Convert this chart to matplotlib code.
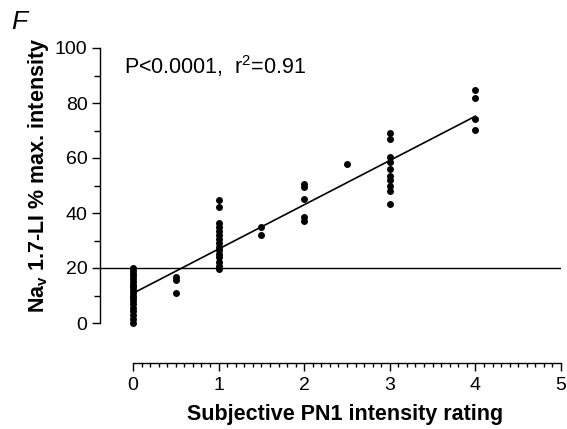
import numpy as np
import matplotlib
matplotlib.use("Agg")
import matplotlib.pyplot as plt
from matplotlib.ticker import FixedLocator

plt.rcParams['font.family'] = ['Liberation Sans', 'DejaVu Sans']

# Data: subjective rating -> Nav1.7-LI % max intensity
x0 = [0]*19
y0 = [0, 1.5, 3, 4.5, 5.5, 7, 8, 9, 10, 11, 12, 13, 14, 15, 16, 17, 18, 19, 20]
x05 = [0.5]*3
y05 = [16.8, 15.6, 11.0]
x1 = [1]*15
y1 = [44.7, 42.1, 36.3, 34.8, 33.6, 32.0, 30.4, 29.0, 27.8, 26.5, 25.1, 23.9, 22.3, 20.7, 19.5]
x15 = [1.5]*2
y15 = [35.0, 32.0]
x2 = [2]*5
y2 = [50.5, 49.3, 45.0, 38.7, 37.2]
x25 = [2.5]
y25 = [58.0]
x3 = [3]*10
y3 = [69.0, 66.8, 60.3, 58.5, 55.9, 53.5, 52.0, 49.8, 48.1, 43.3]
x4 = [4]*4
y4 = [84.7, 81.7, 74.1, 70.2]

xs = np.array(x0 + x05 + x1 + x15 + x2 + x25 + x3 + x4, dtype=float)
ys = np.array(y0 + y05 + y1 + y15 + y2 + y25 + y3 + y4, dtype=float)

fit_intercept = 10.8
fit_slope = 16.1
fit_range = [0, 4]
threshold = 20

fig = plt.figure(figsize=(5.67, 4.29), dpi=100)
ax = fig.add_axes([100/567, 106/429, 461/567, 275/429])

ax.plot(xs, ys, 'o', color='black', markersize=5, markeredgewidth=0, clip_on=False)
fx = np.array(fit_range, dtype=float)
ax.plot(fx, fit_intercept + fit_slope*fx, color='black', lw=1.2)
ax.axhline(threshold, color='black', lw=1.0)

ax.set_xlim(-33/85.6, 5)
ax.set_ylim(0, 100)

for s in ['top', 'right']:
    ax.spines[s].set_visible(False)
ax.spines['bottom'].set_position(('outward', 29))
ax.spines['bottom'].set_bounds(0, 5)
ax.spines['left'].set_bounds(0, 100)
for s in ['left', 'bottom']:
    ax.spines[s].set_linewidth(1.0)

ax.set_xticks([0, 1, 2, 3, 4, 5])
ax.xaxis.set_minor_locator(FixedLocator([i/10 for i in range(0, 51) if i % 10]))
ax.set_yticks([0, 20, 40, 60, 80, 100])
ax.yaxis.set_minor_locator(FixedLocator([10, 30, 50, 70, 90]))
ax.tick_params(axis='both', which='major', length=6, width=1.0, labelsize=14, direction='out')
ax.tick_params(axis='x', which='minor', length=3, width=1.0)
ax.tick_params(axis='y', which='minor', length=4, width=1.0)
ax.tick_params(axis='y', pad=3)
ax.tick_params(axis='x', pad=4)

ax.set_xlabel('Subjective PN1 intensity rating', fontsize=15.5, fontweight='bold')
ax.set_ylabel(r'Na$_\mathregular{v}$ 1.7-LI % max. intensity', fontsize=15.5, fontweight='bold')
ax.xaxis.set_label_coords(245/461, -81/275)
ax.yaxis.set_label_coords(-49/461, 148/275)

ax.text(24/461, 1 - 5/275, r'P<0.0001,  r$^\mathregular{2}$=0.91', transform=ax.transAxes,
        fontsize=15.5, va='top', ha='left')
fig.text(11/567, 1 - 10/429, 'F', fontsize=19, fontstyle='italic', va='top', ha='left')

fig.savefig('out.png', dpi=100)
